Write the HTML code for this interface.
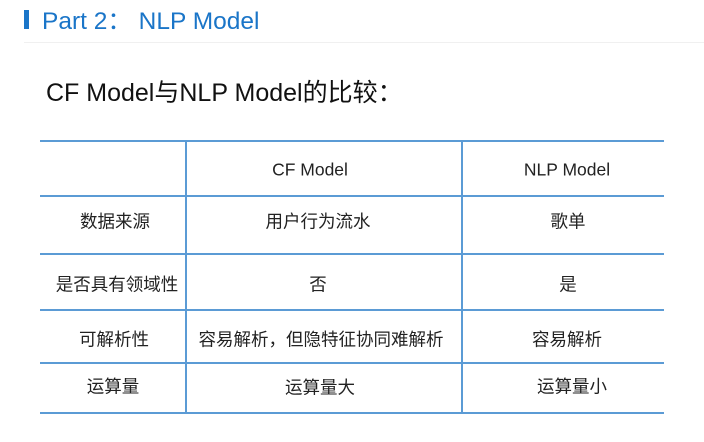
<!DOCTYPE html>
<html><head><meta charset="utf-8"><style>
body{margin:0;width:704px;height:442px;background:#fff;position:relative;overflow:hidden;font-family:"Liberation Sans","Noto Sans CJK SC",sans-serif}
.t{position:absolute;white-space:nowrap}
.h{position:absolute;left:40px;width:624px;height:2px;background:#5b9bd5}
.v{position:absolute;top:141px;height:273px;width:2px;background:#5b9bd5}
.c{position:absolute;font-size:17.5px;color:#222;text-align:center;white-space:nowrap;transform:translate(-50%,-50%)}
</style></head><body>
<div style="position:absolute;left:24px;top:10px;width:5px;height:19px;background:#1a75c8"></div>
<div class="t" style="left:42px;top:2px;font-size:24.5px;color:#1a75c8">Part 2： NLP Model</div>
<div style="position:absolute;left:24px;top:42px;width:680px;height:1px;background:#f0f0f0"></div>
<div class="t" style="left:46px;top:73px;font-size:25px;color:#111">CF Model与NLP Model的比较：</div>
<div class="h" style="top:140px"></div>
<div class="h" style="top:195px"></div>
<div class="h" style="top:253px"></div>
<div class="h" style="top:309px"></div>
<div class="h" style="top:362px"></div>
<div class="h" style="top:412px"></div>
<div class="v" style="left:185px"></div>
<div class="v" style="left:461px"></div>
<div class="c" style="left:310px;top:170px">CF Model</div>
<div class="c" style="left:567px;top:170px">NLP Model</div>
<div class="c" style="left:115px;top:221px">数据来源</div>
<div class="c" style="left:318px;top:221px">用户行为流水</div>
<div class="c" style="left:568px;top:221px">歌单</div>
<div class="c" style="left:117px;top:284px">是否具有领域性</div>
<div class="c" style="left:318px;top:284px">否</div>
<div class="c" style="left:568px;top:284px">是</div>
<div class="c" style="left:114px;top:339px">可解析性</div>
<div class="c" style="left:321px;top:339px">容易解析，但隐特征协同难解析</div>
<div class="c" style="left:567px;top:339px">容易解析</div>
<div class="c" style="left:113px;top:386px">运算量</div>
<div class="c" style="left:320px;top:387px">运算量大</div>
<div class="c" style="left:572px;top:386px">运算量小</div>
</body></html>
